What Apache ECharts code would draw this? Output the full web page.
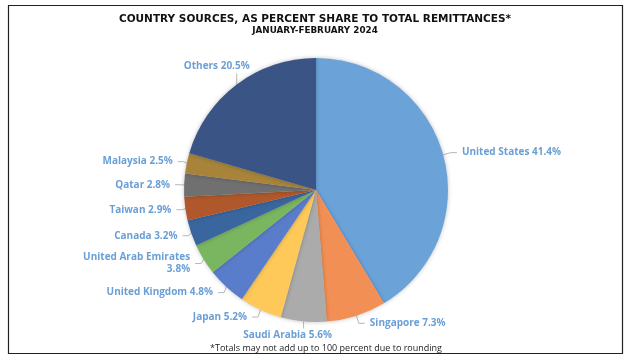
<!DOCTYPE html>
<html><head><meta charset="utf-8">
<script src="https://cdn.jsdelivr.net/npm/echarts@6/dist/echarts.min.js"></script>
<style>html,body{margin:0;padding:0;background:#fff}#c{width:630px;height:360px}</style>
</head><body><div id="c"></div>
<script>
const categories = ['United States','Singapore','Saudi Arabia','Japan','United Kingdom','United Arab Emirates','Canada','Taiwan','Qatar','Malaysia','Others'];
const shares = [41.4, 7.3, 5.6, 5.2, 4.8, 3.8, 3.2, 2.9, 2.8, 2.5, 20.5];
const colors = ['#6BA3D9','#F28F55','#ABABAB','#FFC95A','#5A7DCB','#7AB65F','#3A66A0','#B0582B','#707070','#A8843A','#3A5485'];
const titleText = 'COUNTRY SOURCES, AS PERCENT SHARE TO TOTAL REMITTANCES*';
const subtitleText = 'JANUARY-FEBRUARY 2024';
const footnote = '*Totals may not add up to 100 percent due to rounding';

const chart = echarts.init(document.getElementById('c'), null, {renderer:'canvas'});
chart.setOption({
  animation: false,
  title: [
    {text: titleText, left: 'center', top: 9, textStyle:{fontFamily:'DejaVu Sans', fontWeight:'bold', fontSize:10.5, color:'#111'}},
    {text: subtitleText, left: 'center', top: 21, textStyle:{fontFamily:'DejaVu Sans', fontWeight:'bold', fontSize:8.8, color:'#111'}},
    {text: footnote, left: 321, textAlign:'center', top: 339, textStyle:{fontFamily:'Open Sans', fontWeight:'normal', fontSize:9, color:'#222'}}
  ],
  graphic: [
    {type:'rect', shape:{x:8.5, y:5.5, width:614, height:348}, style:{fill:'none', stroke:'#222', lineWidth:1.2}, silent:true}
  ],
  series: [{
    type: 'pie',
    center: [316, 190],
    radius: 132,
    startAngle: 90,
    clockwise: true,
    avoidLabelOverlap: true,
    data: categories.map((n,i)=>({name:n, value:shares[i], itemStyle:{color:colors[i]}})),
    itemStyle: {borderColor:'#fff', borderWidth:0, shadowBlur:4, shadowColor:'rgba(0,0,0,0.25)'},
    label: {
      show: true, position: 'outside',
      color: '#6A9FD6', fontFamily: 'Open Sans', fontWeight: 'bold', fontSize: 10,
      lineHeight: 12,
      formatter: p => p.name.length > 16 ? p.name + '\n' + p.value + '%' : p.name + ' ' + p.value + '%'
    },
    labelLine: {show:true, length: 8, length2: 6, lineStyle:{color:'#A6A6A6', width:0.8}},
    labelLayout: function (params) {
      const pts = params.labelLinePoints;
      if (!pts) return {};
      const p0 = pts[0];
      if (categories[params.dataIndex] === 'Others') {
        const top = p0[1] - 11;
        return {x: p0[0] - 20, y: top - 1, align: 'center', verticalAlign: 'bottom',
                labelLinePoints: [p0, [p0[0], top], [p0[0], top]]};
      }
      if (categories[params.dataIndex] === 'Saudi Arabia') {
        const bot = p0[1] + 7;
        return {x: p0[0] - 16, y: bot + 1, align: 'center', verticalAlign: 'top',
                labelLinePoints: [p0, [p0[0], bot], [p0[0], bot]]};
      }
      return {};
    }
  }]
});
</script></body></html>
